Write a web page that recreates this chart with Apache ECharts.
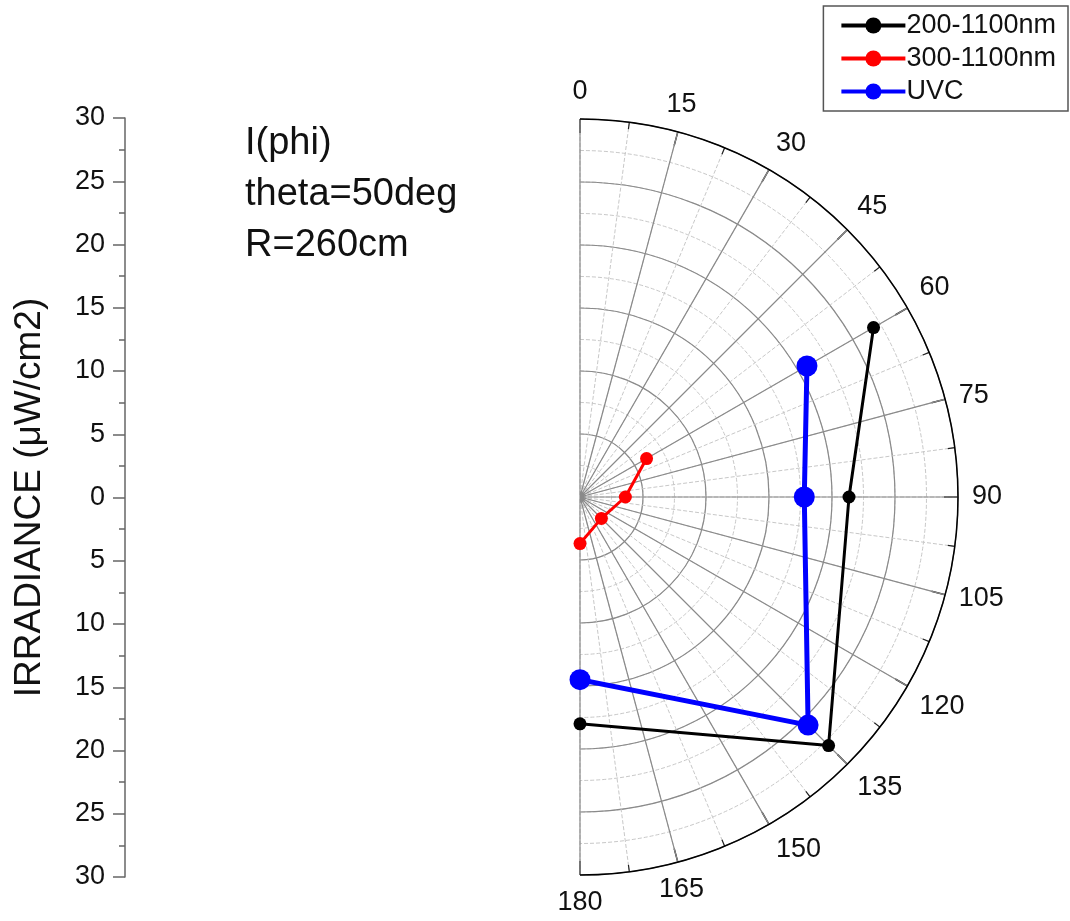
<!DOCTYPE html>
<html>
<head>
<meta charset="utf-8">
<script src="https://cdn.jsdelivr.net/npm/echarts@6/dist/echarts.min.js"></script>
<style>html,body{margin:0;padding:0;background:#fff;}#c{width:1070px;height:921px;}</style>
</head>
<body>
<div id="c"></div>
<script>
// ---- data ----
const angles = [60, 90, 135, 180];
const s200_1100 = [26.9, 21.35, 27.9, 18.0];
const s300_1100 = [6.1, 3.6, 2.4, 3.7];
const sUVC = [20.8, 17.8, 25.6, 14.5];
const seriesNames = ['200-1100nm', '300-1100nm', 'UVC'];
const noteLines = ['I(phi)', 'theta=50deg', 'R=260cm'];
const axisTitle = 'IRRADIANCE (\u03bcW/cm2)';

const FONT = 'Liberation Sans, Arial, sans-serif';
const chart = echarts.init(document.getElementById('c'), null, {renderer: 'canvas'});

function toPolar(vals) { return vals.map((v, i) => [v, angles[i]]); }

const CENTER = [580, 497], R = 378;
const option = {
  backgroundColor: '#fff',
  animation: false,
  textStyle: {fontFamily: FONT},
  grid: {left: 125, top: 118, width: 1, height: 759},
  xAxis: {type: 'value', show: false},
  yAxis: {
    type: 'value', min: -30, max: 30, interval: 5,
    axisLine: {show: true, lineStyle: {color: '#666', width: 1.5}},
    axisTick: {show: true, inside: false, length: 12, lineStyle: {color: '#666', width: 1.5}},
    minorTick: {show: true, splitNumber: 2, length: 6, lineStyle: {color: '#666', width: 1.5}},
    splitLine: {show: false},
    axisLabel: {fontSize: 27, color: '#111', margin: 20, formatter: v => String(Math.abs(v))},
    name: axisTitle, nameLocation: 'middle', nameRotate: 90, nameGap: 77,
    nameTextStyle: {fontSize: 37, color: '#111'}
  },
  polar: [{center: CENTER, radius: R}, {center: CENTER, radius: R}],
  angleAxis: [{
    polarIndex: 0, type: 'value', min: 0, max: 180, interval: 7.5,
    startAngle: 90, endAngle: -90, clockwise: true,
    axisLine: {show: false}, axisTick: {show: false}, axisLabel: {show: false},
    splitLine: {show: true, lineStyle: {color: '#c8c8c8', width: 1, type: 'dashed'}}
  }, {
    polarIndex: 1, type: 'value', min: 0, max: 180, interval: 15,
    startAngle: 90, endAngle: -90, clockwise: true,
    axisLine: {show: true, lineStyle: {color: '#000', width: 1.5}},
    axisTick: {show: true, inside: true, length: 14, lineStyle: {color: '#222', width: 1.5}},
    minorTick: {show: true, splitNumber: 2, length: 7, lineStyle: {color: '#222', width: 1.2}},
    splitLine: {show: true, lineStyle: {color: '#8a8a8a', width: 1.2}},
    axisLabel: {fontSize: 27, color: '#111', margin: 14}
  }],
  radiusAxis: [{
    polarIndex: 0, type: 'value', min: 0, max: 30, interval: 2.5,
    axisLine: {show: false}, axisTick: {show: false}, axisLabel: {show: false},
    splitLine: {show: true, lineStyle: {color: '#c8c8c8', width: 1, type: 'dashed'}}
  }, {
    polarIndex: 1, type: 'value', min: 0, max: 30, interval: 5,
    axisLine: {show: false}, axisTick: {show: false}, axisLabel: {show: false},
    splitLine: {show: true, lineStyle: {color: '#8a8a8a', width: 1.2}}
  }],
  legend: {
    orient: 'vertical', right: 2, top: 6,
    borderColor: '#555', borderWidth: 1.5,
    padding: [6, 12, 6, 16], itemGap: 6, itemWidth: 64, itemHeight: 20,
    lineStyle: {width: 4},
    textStyle: {fontSize: 27, color: '#111', padding: [0, 0, 0, -4]},
    data: seriesNames
  },
  graphic: [{
    type: 'text', left: 245, top: 118,
    style: {text: noteLines.join('\n'), font: '38px ' + FONT, lineHeight: 51, fill: '#111'}
  }],
  series: [
    {name: seriesNames[0], type: 'line', coordinateSystem: 'polar', polarIndex: 1, data: toPolar(s200_1100),
     symbol: 'circle', symbolSize: 13, color: '#000', lineStyle: {width: 3, color: '#000'}, itemStyle: {color: '#000'}},
    {name: seriesNames[1], type: 'line', coordinateSystem: 'polar', polarIndex: 1, data: toPolar(s300_1100),
     symbol: 'circle', symbolSize: 13, color: '#f00', lineStyle: {width: 3, color: '#f00'}, itemStyle: {color: '#f00'}},
    {name: seriesNames[2], type: 'line', coordinateSystem: 'polar', polarIndex: 1, data: toPolar(sUVC),
     symbol: 'circle', symbolSize: 21, color: '#00f', lineStyle: {width: 5, color: '#00f'}, itemStyle: {color: '#00f'}}
  ]
};
chart.setOption(option);
</script>
</body>
</html>
